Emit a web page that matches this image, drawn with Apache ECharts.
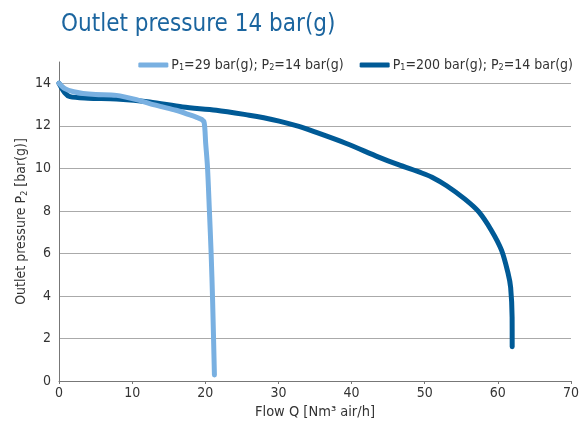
<!DOCTYPE html>
<html>
<head>
<meta charset="utf-8">
<script src="https://cdn.jsdelivr.net/npm/echarts@6/dist/echarts.min.js"></script>
<style>
html,body{margin:0;padding:0;background:#fff;}
#c{width:582px;height:428px;}
</style>
</head>
<body>
<div id="c"></div>
<script>
// Series 1: P1=29 bar(g); P2=14 bar(g)
var lowFlow = [0, 0.8, 2, 3.3, 5, 7.85, 10.6, 12.4, 14, 16, 18, 18.75, 19.5, 19.85, 20.05, 20.3, 20.56, 20.8, 21.0, 21.25];
var lowP    = [14, 13.75, 13.6, 13.52, 13.47, 13.43, 13.23, 13.04, 12.9, 12.73, 12.5, 12.41, 12.3, 12.15, 11.2, 10.07, 8.03, 6.0, 3.8, 0.28];
// Series 2: P1=200 bar(g); P2=14 bar(g)
var highFlow = [0, 0.8, 1.5, 4, 7.85, 12.4, 16.9, 21.5, 26, 28, 30.1, 32.8, 34.6, 39.2, 43.7, 46.4, 49.6, 51, 53, 55.5, 57.4, 59.1, 60.5, 61.4, 61.75, 61.95, 61.96];
var highP    = [14, 13.55, 13.37, 13.3, 13.26, 13.12, 12.88, 12.73, 12.5, 12.38, 12.22, 11.97, 11.76, 11.18, 10.53, 10.17, 9.78, 9.58, 9.18, 8.55, 7.95, 7.09, 6.15, 5.06, 4.4, 3.0, 1.61];
var seriesNames = ['P1=29 bar(g); P2=14 bar(g)', 'P1=200 bar(g); P2=14 bar(g)'];
var legendParts = [['29', '14'], ['200', '14']];
var titleText = 'Outlet pressure 14 bar(g)';
var xName = 'Flow Q [Nm\u00b3 air/h]';

function pairs(xs, ys){ return xs.map(function(x,i){ return [x, ys[i]]; }); }

var FONT = '"Liberation Sans Narrow","DejaVu Sans Condensed","Liberation Sans",sans-serif';
var chart = echarts.init(document.getElementById('c'), null, {renderer:'canvas'});
var subStyle = {fontSize: 9, fontFamily: FONT, color:'#333', padding:[6,0,0,0]};
var normStyle = {fontSize: 14, fontFamily: FONT, color:'#333'};
chart.setOption({
  animation: false,
  backgroundColor: '#fff',
  title: {
    text: titleText, left: 56, top: 8,
    textStyle: {fontFamily: FONT, fontSize: 24, fontWeight: 'normal', color: '#1b659f'}
  },
  legend: {
    right: 4, top: 53, itemGap: 16, itemWidth: 30, itemHeight: 5, icon: 'roundRect',
    data: seriesNames,
    formatter: function(name){
      var i = seriesNames.indexOf(name);
      return '{n|P}{s|1}{n|=' + legendParts[i][0] + ' bar(g); P}{s|2}{n|=' + legendParts[i][1] + ' bar(g)}';
    },
    textStyle: {rich: {n: normStyle, s: subStyle}, padding:[0,0,0,-2]}
  },
  grid: {left: 59, right: 9, top: 62, bottom: 47},
  xAxis: {
    type: 'value', min: 0, max: 70, interval: 10,
    name: xName, nameLocation: 'middle', nameGap: 21,
    nameTextStyle: {fontFamily: FONT, fontSize: 14.5, color: '#333'},
    axisLine: {lineStyle: {color: '#777'}},
    axisTick: {show: true, length: 3, lineStyle: {color: '#777'}},
    axisLabel: {fontFamily: FONT, fontSize: 14, color: '#333', margin: 5},
    splitLine: {show: false}
  },
  yAxis: {
    type: 'value', min: 0, max: 15, interval: 2,
    name: '{n|Outlet pressure P}{s|2}{n| [bar(g)]}', nameLocation: 'middle', nameGap: 30, nameRotate: 90,
    nameMoveOverlap: false,
    nameTextStyle: {rich: {n: normStyle, s: subStyle}},
    axisLine: {show: true, lineStyle: {color: '#777'}},
    axisTick: {show: false},
    axisLabel: {fontFamily: FONT, fontSize: 14, color: '#333', margin: 8, showMaxLabel: false},
    splitLine: {show: true, showMinLine: false, showMaxLine: false, lineStyle: {color: '#aaa', width: 1}}
  },
  series: [
    {
      name: seriesNames[1], type: 'line', data: pairs(highFlow, highP), smooth: 0.3, showSymbol: false,
      lineStyle: {width: 5, color: '#005a96', cap: 'round', join: 'round'}, itemStyle: {color: '#005a96'}, z: 2
    },
    {
      name: seriesNames[0], type: 'line', data: pairs(lowFlow, lowP), smooth: 0.3, showSymbol: false,
      lineStyle: {width: 5, color: '#79b0e1', cap: 'round', join: 'round'}, itemStyle: {color: '#79b0e1'}, z: 3
    }
  ]
});
</script>
</body>
</html>
